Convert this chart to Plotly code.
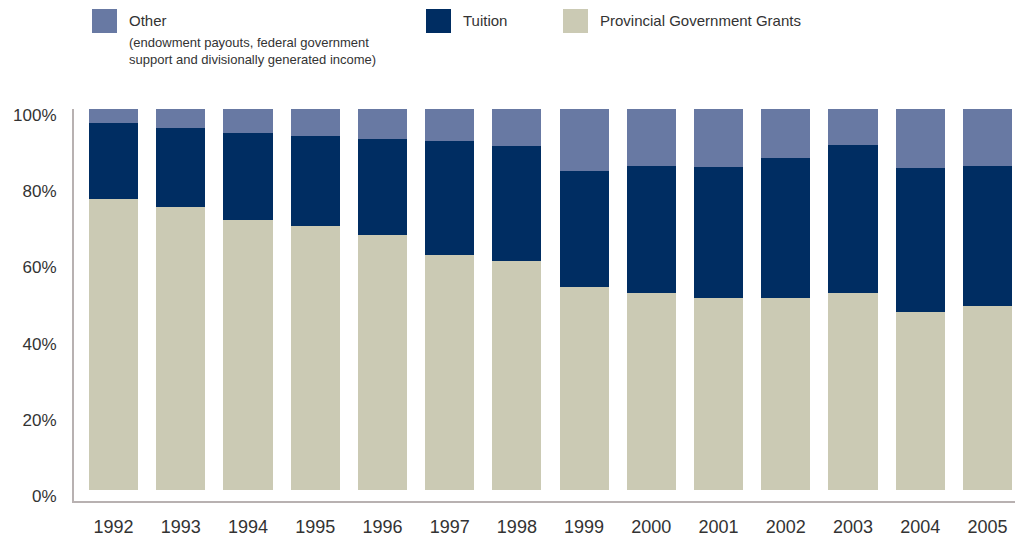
import plotly.graph_objects as go

years = ["1992", "1993", "1994", "1995", "1996", "1997", "1998",
         "1999", "2000", "2001", "2002", "2003", "2004", "2005"]
grants = [76.3, 74.2, 70.8, 69.2, 66.8, 61.8, 60.0, 53.4, 51.6, 50.5, 50.3, 51.6, 46.8, 48.4]
tuition = [20.0, 20.8, 22.9, 23.7, 25.3, 29.8, 30.3, 30.3, 33.4, 34.2, 36.8, 38.9, 37.7, 36.6]
other = [3.7, 5.0, 6.3, 7.1, 7.9, 8.4, 9.7, 16.3, 15.0, 15.3, 12.9, 9.5, 15.5, 15.0]
y_ticks = [0, 20, 40, 60, 80, 100]
y_labels = ["0%", "20%", "40%", "60%", "80%", "100%"]

C_OTHER = "#6879a3"
C_TUIT = "#002d62"
C_GRANT = "#cbcab4"
TXT = "#333333"
FONT = "Liberation Sans, Arial, sans-serif"

W, H = 1018, 540
ML, MR, MT, MB = 74, 3, 109, 39
PW = W - ML - MR
PH = H - MT - MB

def px(x):
    return (x - ML) / PW

def py(y):
    return (H - MB - y) / PH

fig = go.Figure()
fig.add_trace(go.Bar(x=years, y=grants, name="Provincial Government Grants",
                     marker=dict(color=C_GRANT, line=dict(width=0))))
fig.add_trace(go.Bar(x=years, y=tuition, name="Tuition",
                     marker=dict(color=C_TUIT, line=dict(width=0))))
fig.add_trace(go.Bar(x=years, y=other, name="Other",
                     marker=dict(color=C_OTHER, line=dict(width=0))))

shapes = []
annotations = []
legend_items = [
    (92, C_OTHER, "Other"),
    (426, C_TUIT, "Tuition"),
    (563, C_GRANT, "Provincial Government Grants"),
]
for x0, col, label in legend_items:
    shapes.append(dict(type="rect", xref="paper", yref="paper",
                       x0=px(x0), x1=px(x0 + 25), y0=py(33), y1=py(9),
                       fillcolor=col, line=dict(width=0)))
    annotations.append(dict(xref="paper", yref="paper", x=px(x0 + 35), y=py(21),
                            text=label, showarrow=False, xanchor="left", yanchor="middle",
                            font=dict(family=FONT, size=15, color=TXT)))
annotations.append(dict(xref="paper", yref="paper", x=px(127), y=py(51),
                        text="(endowment payouts, federal government<br>support and divisionally generated income)",
                        showarrow=False, xanchor="left", yanchor="middle", align="left",
                        font=dict(family=FONT, size=13, color=TXT)))

fig.update_layout(
    barmode="stack",
    bargap=0.27,
    width=W, height=H,
    margin=dict(l=ML, r=MR, t=MT, b=MB, pad=0, autoexpand=False),
    plot_bgcolor="white", paper_bgcolor="white",
    showlegend=False,
    shapes=shapes,
    annotations=annotations,
    font=dict(family=FONT, color=TXT),
)
fig.update_xaxes(
    range=[-0.588, 13.41], showgrid=False, zeroline=False,
    showline=True, linecolor="#b8b1b1", linewidth=2,
    ticks="", ticklabelstandoff=8, automargin=False,
    tickfont=dict(family=FONT, size=18, color=TXT),
)
fig.update_yaxes(
    range=[-2.9, 100], showgrid=False, zeroline=False,
    showline=True, linecolor="#b8b1b1", linewidth=2,
    tickvals=y_ticks, ticktext=y_labels, ticks="",
    ticklabelstandoff=12, ticklabelshift=6, automargin=False,
    tickfont=dict(family=FONT, size=17, color=TXT),
)

fig.write_html("out.html", config={"displayModeBar": False},
               post_script="document.body.style.margin='0';")
